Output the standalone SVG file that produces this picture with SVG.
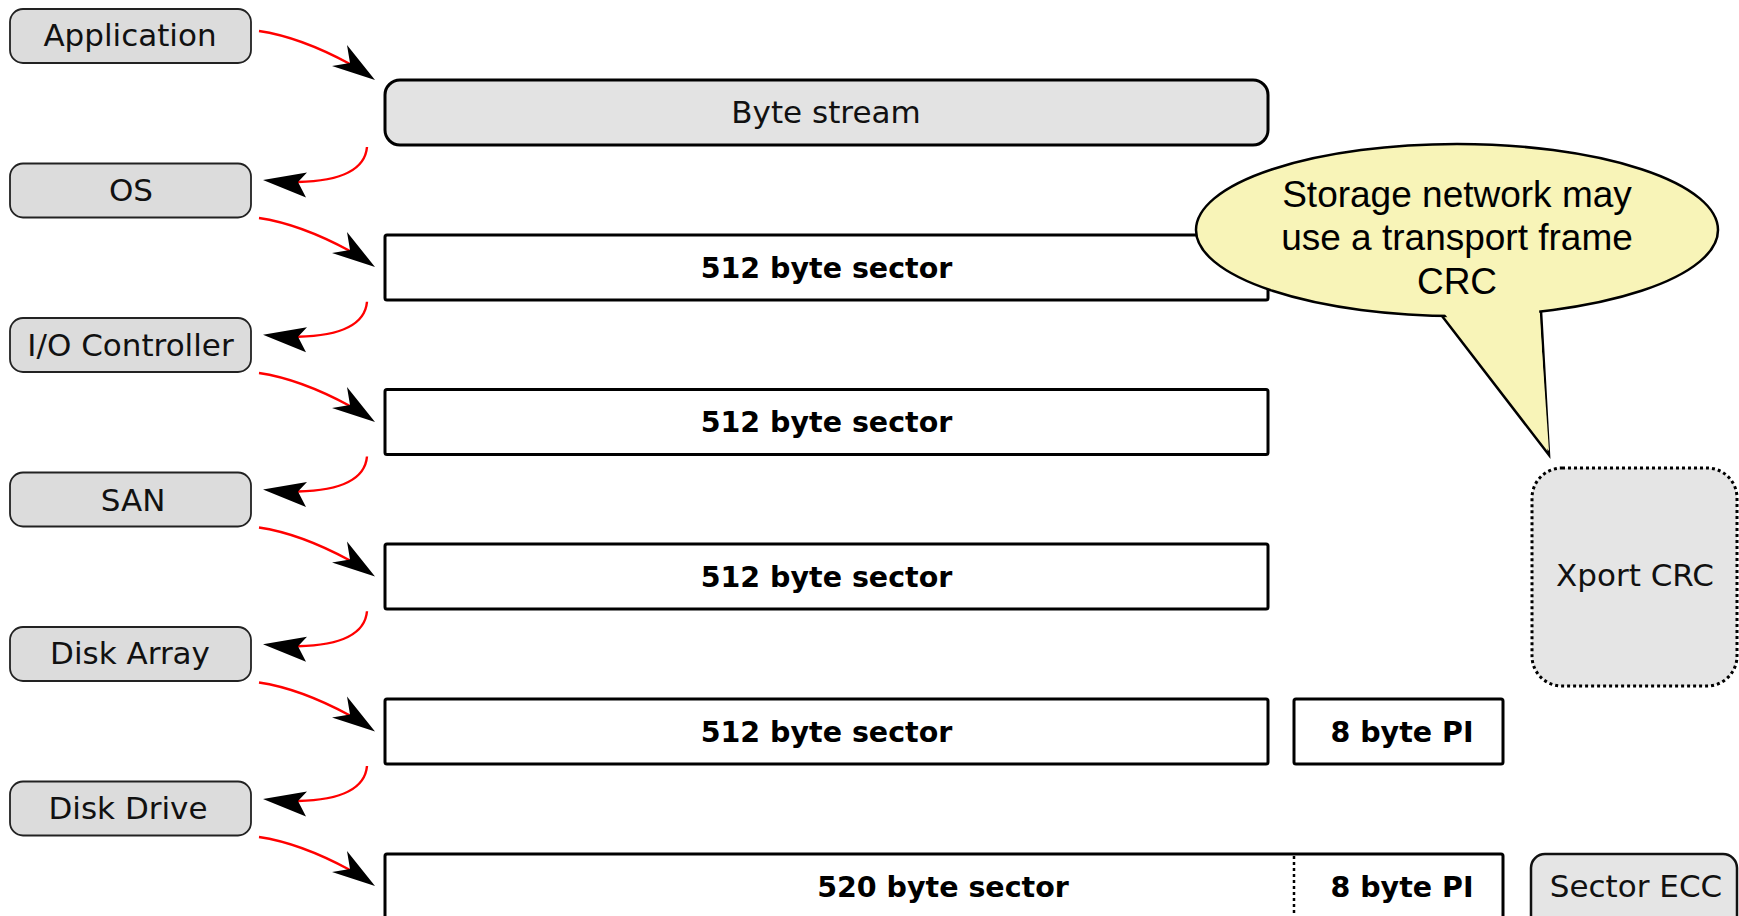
<svg xmlns="http://www.w3.org/2000/svg" width="1739" height="916" viewBox="0 0 1739 916">
<style>
  .lbox{fill:#dcdcdc;stroke:#222;stroke-width:1.8}
  .bar{fill:#fff;stroke:#000;stroke-width:3}
  .t{font-family:"DejaVu Sans",sans-serif;font-size:31px;fill:#111;text-anchor:middle}
  .b{font-family:"DejaVu Sans",sans-serif;font-size:28.5px;font-weight:bold;fill:#000;text-anchor:middle}
  .c{font-family:"Liberation Sans",Arial,sans-serif;font-size:37px;fill:#000;text-anchor:middle}
  .ln{fill:none;stroke:#f00;stroke-width:2.4}
  .ah{fill:#000;stroke:none}
</style>
<rect width="1739" height="916" fill="#fff"/>

<g id="application"><rect class="lbox" x="10" y="9" width="241" height="54" rx="13"/><text class="t" x="130" y="45.5">Application</text></g>
<g id="os"><rect class="lbox" x="10" y="163.5" width="241" height="54" rx="13"/><text class="t" x="131" y="201">OS</text></g>
<g id="io-controller"><rect class="lbox" x="10" y="318" width="241" height="54" rx="13"/><text class="t" x="130.5" y="356">I/O Controller</text></g>
<g id="san"><rect class="lbox" x="10" y="472.5" width="241" height="54" rx="13"/><text class="t" x="133" y="511">SAN</text></g>
<g id="disk-array"><rect class="lbox" x="10" y="627" width="241" height="54" rx="13"/><text class="t" x="130" y="664">Disk Array</text></g>
<g id="disk-drive"><rect class="lbox" x="10" y="781.5" width="241" height="54" rx="13"/><text class="t" x="128" y="818.5">Disk Drive</text></g>

<g id="byte-stream"><rect x="385" y="80" width="883" height="65" rx="15" fill="#e3e3e3" stroke="#000" stroke-width="3"/><text class="t" x="826" y="122.5">Byte stream</text></g>
<g id="sector-1"><rect class="bar" x="385" y="235" width="883" height="65" rx="2"/><text class="b" x="826.5" y="277.5">512 byte sector</text></g>
<g id="sector-2"><rect class="bar" x="385" y="389.5" width="883" height="65" rx="2"/><text class="b" x="826.5" y="432">512 byte sector</text></g>
<g id="sector-3"><rect class="bar" x="385" y="544" width="883" height="65" rx="2"/><text class="b" x="826.5" y="586.5">512 byte sector</text></g>
<g id="sector-4"><rect class="bar" x="385" y="699" width="883" height="65" rx="2"/><text class="b" x="826.5" y="741.5">512 byte sector</text></g>
<g id="pi-1"><rect class="bar" x="1294" y="699" width="209" height="65" rx="2"/><text class="b" x="1402" y="741.5">8 byte PI</text></g>
<g id="sector-520"><rect class="bar" x="385" y="854" width="1118" height="90" rx="2"/><line x1="1294" y1="856" x2="1294" y2="916" stroke="#000" stroke-width="2.5" stroke-dasharray="3 3"/><text class="b" x="943" y="896.5">520 byte sector</text><text class="b" x="1402" y="896.5">8 byte PI</text></g>
<g id="sector-ecc"><rect x="1531" y="854" width="206" height="90" rx="14" fill="#e5e5e5" stroke="#111" stroke-width="2.5"/><text class="t" x="1636" y="896.5">Sector ECC</text></g>
<g id="xport-crc"><rect x="1532" y="468" width="205" height="218" rx="30" fill="#e5e5e5" stroke="#000" stroke-width="3" stroke-dasharray="3 3"/><text class="t" x="1635" y="585.5">Xport CRC</text></g>

<g id="callout">
  <path d="M1442,316 L1549,455 L1541,311" fill="#f8f4b8" stroke="#000" stroke-width="2.5" stroke-linejoin="miter"/>
  <ellipse cx="1457" cy="230" rx="261" ry="86" fill="#f8f4b8" stroke="#000" stroke-width="2.5"/>
  <path d="M1444,313 L1549,451 L1539,309 Z" fill="#f8f4b8" stroke="none"/>
  <text class="c" x="1457" y="207">Storage network may</text>
  <text class="c" x="1457" y="250">use a transport frame</text>
  <text class="c" x="1457" y="294">CRC</text>
</g>

<g id="connectors">
  <path class="ln" d="M259,31 Q300,37 350,64"/>
  <path class="ah" d="M375,80 L347,45 L350,63 L332,66 Z"/>
  <path class="ln" d="M259,218 Q300,224 350,251"/>
  <path class="ah" d="M375,267 L347,232 L350,250 L332,253 Z"/>
  <path class="ln" d="M259,373 Q300,379 350,406"/>
  <path class="ah" d="M375,422 L347,387 L350,405 L332,408 Z"/>
  <path class="ln" d="M259,527.5 Q300,533.5 350,560.5"/>
  <path class="ah" d="M375,576.5 L347,541.5 L350,559.5 L332,562.5 Z"/>
  <path class="ln" d="M259,682.5 Q300,688.5 350,715.5"/>
  <path class="ah" d="M375,731.5 L347,696.5 L350,714.5 L332,717.5 Z"/>
  <path class="ln" d="M259,837 Q300,843 350,870"/>
  <path class="ah" d="M375,886 L347,851 L350,869 L332,872 Z"/>

  <path class="ln" d="M367,147 C365,170 340,181 298,182"/>
  <path class="ah" d="M263,180 L307,172.5 L298,182 L306,197.5 Z"/>
  <path class="ln" d="M367,301.75 C365,324.75 340,335.75 298,336.75"/>
  <path class="ah" d="M263,334.75 L307,327.25 L298,336.75 L306,352.25 Z"/>
  <path class="ln" d="M367,456.5 C365,479.5 340,490.5 298,491.5"/>
  <path class="ah" d="M263,489.5 L307,482 L298,491.5 L306,507 Z"/>
  <path class="ln" d="M367,611.25 C365,634.25 340,645.25 298,646.25"/>
  <path class="ah" d="M263,644.25 L307,636.75 L298,646.25 L306,661.75 Z"/>
  <path class="ln" d="M367,766 C365,789 340,800 298,801"/>
  <path class="ah" d="M263,799 L307,791.5 L298,801 L306,816.5 Z"/>
</g>
</svg>
